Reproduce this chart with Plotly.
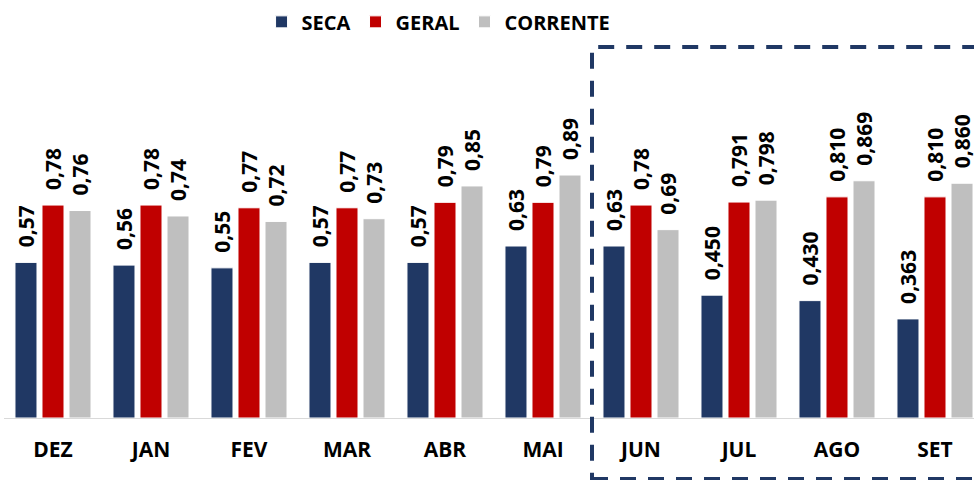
import plotly.graph_objects as go

months = ["DEZ", "JAN", "FEV", "MAR", "ABR", "MAI", "JUN", "JUL", "AGO", "SET"]
seca = [0.57, 0.56, 0.55, 0.57, 0.57, 0.63, 0.63, 0.450, 0.430, 0.363]
geral = [0.78, 0.78, 0.77, 0.77, 0.79, 0.79, 0.78, 0.791, 0.810, 0.810]
corrente = [0.76, 0.74, 0.72, 0.73, 0.85, 0.89, 0.69, 0.798, 0.869, 0.860]
decimals = [2, 2, 2, 2, 2, 2, 2, 3, 3, 3]

series = [("SECA", seca, "#203864"), ("GERAL", geral, "#C00000"), ("CORRENTE", corrente, "#BFBFBF")]

FONT = "Open Sans"
BARGAP = 0.173
x_idx = list(range(len(months)))

fig = go.Figure()
for name, vals, color in series:
    fig.add_trace(go.Bar(
        x=x_idx, y=vals, name=name,
        marker=dict(color=color, line=dict(color="white", width=1)),
    ))

slot = (1 - BARGAP) / 3
annotations = []
for k, (name, vals, color) in enumerate(series):
    for i, v in enumerate(vals):
        label = f"{v:.{decimals[i]}f}".replace(".", ",")
        annotations.append(dict(
            x=i + (k - 1) * slot, y=v, xref="x", yref="y",
            text=label, showarrow=False, textangle=-90,
            xanchor="center", yanchor="bottom", yshift=13,
            font=dict(family=FONT, size=21, color="black", weight="bold"),
        ))

x_range = [-0.5, -0.5 + 970 / 98]
y_max = 373 / 273
rect_x0 = (5.5 - x_range[0]) / (x_range[1] - x_range[0])

fig.update_layout(
    width=974, height=480,
    margin=dict(l=4, r=0, t=45, b=62),
    paper_bgcolor="white", plot_bgcolor="white",
    barmode="group", bargap=BARGAP, bargroupgap=0.185,
    showlegend=True,
    legend=dict(orientation="h", x=0.448, xanchor="center", y=1.062, yanchor="middle",
                font=dict(family=FONT, size=20, color="black", weight="bold"),
                itemwidth=30, tracegroupgap=0, traceorder="normal"),
    xaxis=dict(range=x_range, tickmode="array", tickvals=x_idx, ticktext=months,
               showgrid=False, zeroline=False, showline=True, linecolor="#D9D9D9", linewidth=1,
               ticks="", ticklabelstandoff=13,
               tickfont=dict(family=FONT, size=21, color="black", weight="bold")),
    yaxis=dict(range=[0, y_max], visible=False, showgrid=False, zeroline=False),
    annotations=annotations,
    shapes=[dict(type="rect", xref="paper", yref="paper",
                 x0=rect_x0, x1=1.03, y0=(418 - 479) / 373, y1=(418 - 47) / 373,
                 line=dict(color="#203864", width=4, dash="16px,12px"),
                 fillcolor="rgba(0,0,0,0)", layer="above")],
)

fig.write_html("out.html", config={"displayModeBar": False},
               post_script="document.body.style.margin='0';document.body.style.overflow='hidden';")
